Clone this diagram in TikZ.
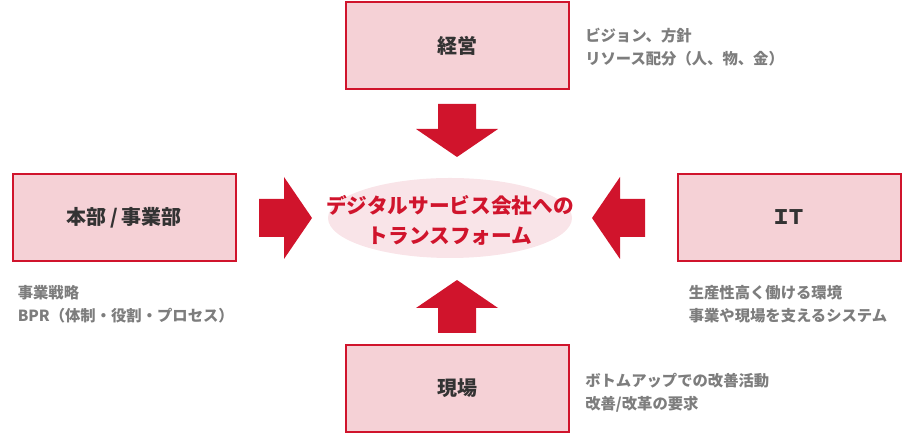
\documentclass[tikz,border=0pt]{standalone}
\usepackage{fontspec}
\setmainfont{Noto Sans CJK JP}
\usetikzlibrary{positioning,%
  shapes.geometric%
}
\definecolor{rot}{RGB}{208,20,44}
\definecolor{rosa}{RGB}{245,209,214}
\definecolor{hellrosa}{RGB}{249,228,232}
\definecolor{dunkel}{RGB}{51,51,51}
\definecolor{grau}{RGB}{125,125,125}

\begin{document}
\begin{tikzpicture}[x=0.75pt,y=0.75pt]
            \tikzset{kasten/.style={draw=rot,line width=1.5pt,fill=rosa,minimum width=167.25pt,minimum height=65.25pt,inner sep=0pt,text=dunkel,font=\fontsize{15}{18}\selectfont\bfseries}}
            \tikzset{notiz/.style={inner sep=0pt,align=left,text=grau,font=\fontsize{11.5}{17.25}\selectfont\bfseries}}
            \tikzset{blockpfeil/.pic={\fill[rot] (0,-19) -- (25,-19) -- (25,-41) -- (53,0) -- (25,41) -- (25,19) -- (0,19) -- cycle;}}
            \useasboundingbox (0,0) rectangle (912,434);

            \node[ellipse,fill=hellrosa,minimum width=183pt,minimum height=60pt,inner sep=0pt] (ziel) at (450,216) {};
            \node[text=rot,align=center,inner sep=0pt,font=\fontsize{15.5}{22.5}\selectfont\bfseries] (zieltext) at (450,213.5) {デジタルサービス会社への\\トランスフォーム};

            \node[kasten] (keiei) at (457.5,388.5) {経営};
            \node[notiz,below right=20pt and 11.25pt of keiei.north east] (keieiu) {ビジョン、方針\\リソース配分（人、物、金）};

            \node[kasten] (honbu) at (124,216.5) {本部\hspace{2.5pt}/\hspace{2.5pt}事業部};
            \node[notiz,below right=17.6pt and 4.5pt of honbu.south west] (honbuu) {事業戦略\\BPR（体制・役割・プロセス）};

            \node[kasten] (it) at (789,216.5) {\addfontfeature{CharacterWidth=AlternateProportional}ＩＴ};
            \node[notiz,below right=17.6pt and 9pt of it.south west] (itu) {生産性高く働ける環境\\事業や現場を支えるシステム};

            \node[kasten] (genba) at (457.5,45.5) {現場};
            \node[notiz,below right=22pt and 11.25pt of genba.north east] (genbau) {ボトムアップでの改善活動\\改善/改革の要求};

        %Pfeile
            \pic[rotate=-90] at (457,330) {blockpfeil};
            \pic[rotate=90] at (457,101) {blockpfeil};
            \pic at (259,216) {blockpfeil};
            \pic[rotate=180] at (645,216) {blockpfeil};
        \end{tikzpicture}
\end{document}
